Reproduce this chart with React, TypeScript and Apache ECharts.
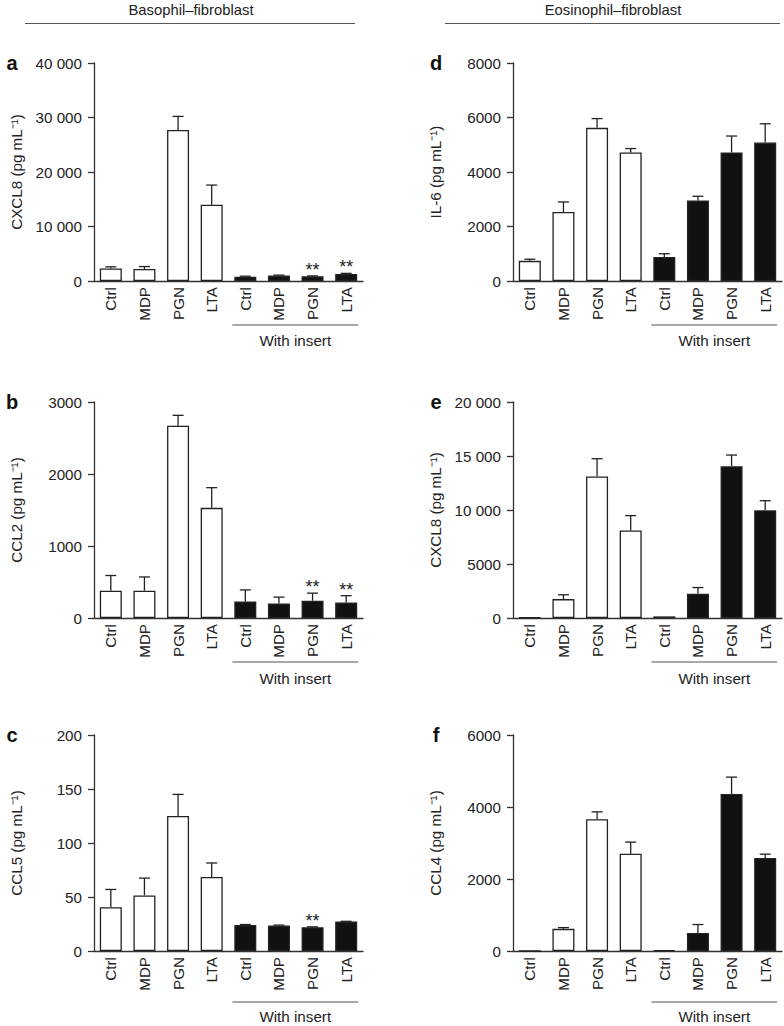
import React, { useEffect, useRef } from "react";
import * as echarts from "echarts";

const categories = ["Ctrl", "MDP", "PGN", "LTA", "Ctrl", "MDP", "PGN", "LTA"];
const filled = [false, false, false, false, true, true, true, true];

// Panel a: CXCL8 basophil-fibroblast
const aValues = [2300, 2200, 27700, 14000, 800, 1000, 850, 1300];
const aErrors = [300, 450, 2500, 3600, 80, 80, 80, 100];
const aStars = ["", "", "", "", "", "", "**", "**"];
// Panel b: CCL2 basophil-fibroblast
const bValues = [380, 380, 2670, 1530, 230, 200, 240, 215];
const bErrors = [210, 190, 145, 280, 160, 90, 105, 95];
const bStars = ["", "", "", "", "", "", "**", "**"];
// Panel c: CCL5 basophil-fibroblast
const cValues = [40.5, 51.5, 125, 68.5, 24, 23.6, 22, 27.2];
const cErrors = [16.5, 16, 20, 13, 0.5, 0.4, 0.4, 0.3];
const cStars = ["", "", "", "", "", "", "**", ""];
// Panel d: IL-6 eosinophil-fibroblast
const dValues = [740, 2530, 5620, 4720, 880, 2950, 4720, 5080];
const dErrors = [60, 370, 340, 140, 120, 160, 600, 690];
const dStars = ["", "", "", "", "", "", "", ""];
// Panel e: CXCL8 eosinophil-fibroblast
const eValues = [50, 1750, 13100, 8100, 150, 2240, 14050, 9970];
const eErrors = [0, 400, 1650, 1380, 0, 580, 1040, 890];
const eStars = ["", "", "", "", "", "", "", ""];
// Panel f: CCL4 eosinophil-fibroblast
const fValues = [0, 615, 3660, 2700, 20, 500, 4360, 2580];
const fErrors = [0, 35, 205, 325, 0, 235, 470, 110];
const fStars = ["", "", "", "", "", "", "", ""];

const yNames = ["CXCL8 (pg mL⁻¹)", "CCL2 (pg mL⁻¹)", "CCL5 (pg mL⁻¹)", "IL-6 (pg mL⁻¹)", "CXCL8 (pg mL⁻¹)", "CCL4 (pg mL⁻¹)"];
const yMax = [40000, 3000, 200, 8000, 20000, 6000];
const yInterval = [10000, 1000, 50, 2000, 5000, 2000];
const panelLetters = ["a", "b", "c", "d", "e", "f"];
const headers = ["Basophil–fibroblast", "Eosinophil–fibroblast"];
const insertLabel = "With insert";

const FONT = "'Liberation Sans', Arial, Helvetica, sans-serif";
const AX = "#333";
const FS = 15.2;

const colLeft = [94, 513];
const gridW = 269;
const rowTop = [63, 402, 735];
const rowH = [218, 216, 216];
const insertLineY = [325, 662, 1002];
const insertTextY = [340, 678, 1016];
const letterY = [63, 402, 735];

function fmt(v: number) {
  if (v >= 10000) return String(v).replace(/\B(?=(\d{3})+(?!\d))/g, " ");
  return String(v);
}

export default function App() {
  const ref = useRef<HTMLDivElement>(null);
  useEffect(() => {
    if (!ref.current) return;
    const chart = echarts.init(ref.current, null, { renderer: "svg" });
    const panels = [
      { v: aValues, e: aErrors, s: aStars },
      { v: bValues, e: bErrors, s: bStars },
      { v: cValues, e: cErrors, s: cStars },
      { v: dValues, e: dErrors, s: dStars },
      { v: eValues, e: eErrors, s: eStars },
      { v: fValues, e: fErrors, s: fStars },
    ];
    const grids: any[] = [];
    const xAxes: any[] = [];
    const yAxes: any[] = [];
    const series: any[] = [];
    const graphics: any[] = [];
    const catW = gridW / 8;

    panels.forEach((p, i) => {
      const col = i < 3 ? 0 : 1;
      const row = i % 3;
      const left = colLeft[col];
      grids.push({ left, top: rowTop[row], width: gridW, height: rowH[row] });
      xAxes.push({
        gridIndex: i,
        type: "category",
        data: categories,
        axisLine: { lineStyle: { color: AX, width: 1.3 } },
        axisTick: { show: false },
        axisLabel: { rotate: 90, interval: 0, fontSize: FS, color: "#222", fontFamily: FONT, margin: 6 },
      });
      yAxes.push({
        gridIndex: i,
        type: "value",
        min: 0,
        max: yMax[i],
        interval: yInterval[i],
        splitLine: { show: false },
        axisLine: { show: true, lineStyle: { color: AX, width: 1.3 } },
        axisTick: { show: true, length: 6, lineStyle: { color: AX, width: 1.3 } },
        axisLabel: { fontSize: FS, color: "#222", fontFamily: FONT, margin: 12, formatter: fmt },
        name: yNames[i],
        nameLocation: "middle",
        nameRotate: 90,
        nameGap: 70,
        nameTextStyle: { fontSize: FS, color: "#222", fontFamily: FONT },
      });
      series.push({
        type: "bar",
        xAxisIndex: i,
        yAxisIndex: i,
        barWidth: 22,
        data: p.v.map((val, k) => ({
          value: val,
          itemStyle: { color: filled[k] ? "#111" : "#fff", borderColor: "#222", borderWidth: 1.3 },
        })),
      });
      const stars = p.s;
      series.push({
        type: "custom",
        xAxisIndex: i,
        yAxisIndex: i,
        z: 5,
        clip: false,
        data: p.v.map((val, k) => [k, val, p.e[k]]),
        renderItem: (params: any, api: any) => {
          const x = api.value(0);
          const v = api.value(1);
          const er = api.value(2);
          const base = api.coord([x, v]);
          const top = api.coord([x, v + er]);
          const children: any[] = [];
          if (er > 0) {
            children.push({
              type: "line",
              shape: { x1: base[0], y1: base[1], x2: top[0], y2: top[1] },
              style: { stroke: "#222", lineWidth: 1.3 },
            });
            children.push({
              type: "line",
              shape: { x1: top[0] - 5.5, y1: top[1], x2: top[0] + 5.5, y2: top[1] },
              style: { stroke: "#222", lineWidth: 1.3 },
            });
          }
          const st = stars[params.dataIndex];
          if (st) {
            children.push({
              type: "text",
              style: {
                text: st,
                x: top[0],
                y: top[1] + 3,
                textAlign: "center",
                textVerticalAlign: "bottom",
                fontSize: 18,
                fontFamily: FONT,
                fill: "#222",
              },
            });
          }
          return { type: "group", children };
        },
      });

      // Panel letter
      graphics.push({
        type: "text",
        x: col === 0 ? 12 : 436,
        y: letterY[row],
        style: {
          text: panelLetters[i],
          fontSize: 20,
          fontWeight: "bold",
          fontFamily: FONT,
          fill: "#111",
          textAlign: "center",
          textVerticalAlign: "middle",
        },
      });
      // With insert bracket
      const x1 = left + 4.5 * catW - 13;
      const x2 = left + 7.5 * catW + 12;
      graphics.push({
        type: "line",
        shape: { x1, y1: insertLineY[row], x2, y2: insertLineY[row] },
        style: { stroke: "#555", lineWidth: 1.2 },
      });
      graphics.push({
        type: "text",
        x: (x1 + x2) / 2,
        y: insertTextY[row],
        style: {
          text: insertLabel,
          fontSize: FS,
          fontFamily: FONT,
          fill: "#222",
          textAlign: "center",
          textVerticalAlign: "middle",
        },
      });
    });

    // Headers
    const headerX = [191, 613];
    const headerLine = [
      [25, 355],
      [445, 780],
    ];
    headers.forEach((h, c) => {
      graphics.push({
        type: "text",
        x: headerX[c],
        y: 9.5,
        style: {
          text: h,
          fontSize: 14.8,
          fontFamily: FONT,
          fill: "#222",
          textAlign: "center",
          textVerticalAlign: "middle",
        },
      });
      graphics.push({
        type: "line",
        shape: { x1: headerLine[c][0], y1: 23.5, x2: headerLine[c][1], y2: 23.5 },
        style: { stroke: "#555", lineWidth: 1.2 },
      });
    });

    chart.setOption({
      animation: false,
      backgroundColor: "#fff",
      textStyle: { fontFamily: FONT },
      grid: grids,
      xAxis: xAxes,
      yAxis: yAxes,
      series,
      graphic: graphics,
    });
    return () => chart.dispose();
  }, []);
  return <div ref={ref} style={{ position: "absolute", left: 0, top: 0, width: 784, height: 1026 }} />;
}
